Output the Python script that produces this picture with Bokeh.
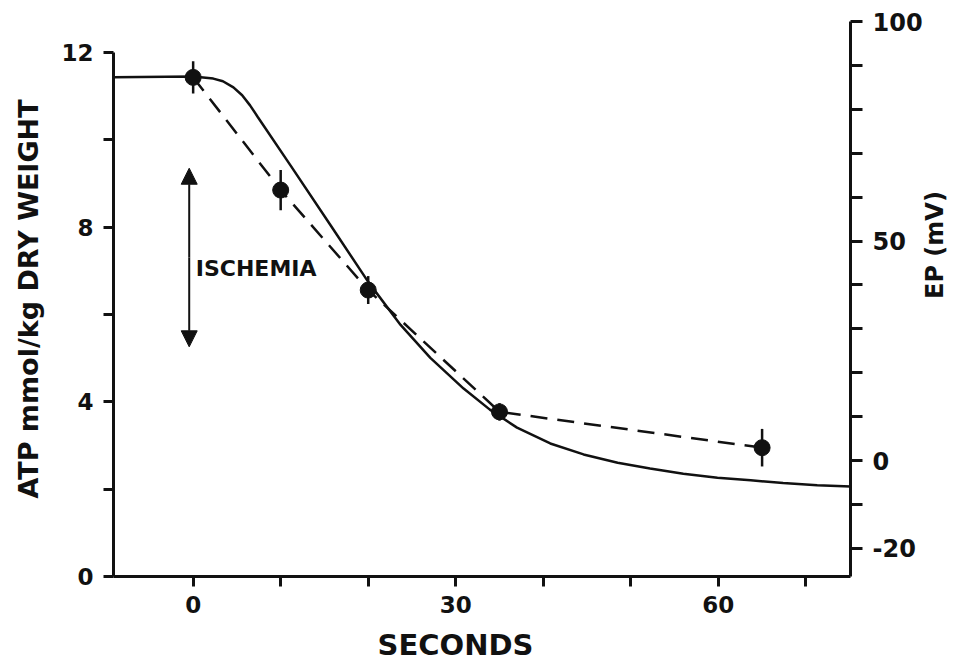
import math
from bokeh.plotting import figure
from bokeh.models import (Range1d, LinearAxis, FixedTicker, Label, Arrow, NormalHead, Title)
from bokeh.embed import file_html
from bokeh.resources import INLINE

# ---- data ----
atp_t = [0, 10, 20, 35, 65]
atp_val = [11.43, 8.85, 6.56, 3.77, 2.95]
atp_err = [0.37, 0.46, 0.32, 0.20, 0.43]

ep_t = [-9.1, 0, 2.3, 3.4, 4.6, 5.6, 6.5, 7.4, 11.1, 15.7, 20.0, 23.7, 27.1,
        30.9, 33.9, 37.0, 40.8, 44.6, 48.5, 52.2, 56.0, 59.9, 63.7, 67.4,
        71.3, 75.1]
ep_mv = [87.3, 87.5, 87.0, 86.4, 85.0, 83.2, 80.9, 78.2, 67.3, 53.6, 40.7,
         30.9, 23.4, 16.4, 11.6, 7.5, 3.9, 1.4, -0.5, -1.8, -3.0, -3.9, -4.5,
         -5.1, -5.6, -5.9]

x_major = [0, 30, 60]
x_minor = [10, 20, 40, 50, 70]
atp_major = [0, 4, 8, 12]
atp_minor = [2, 6, 10]
ep_major = [-20, 0, 50, 100]
ep_minor = [-10, 10, 20, 30, 40, 60, 70, 80, 90]
ep_labels = {-20: "-20", 0: "0", 50: "50", 100: "100"}

arrow_t = -0.45
arrow_top = 9.35
arrow_bottom = 5.26
label_pos = (0.3, 7.06)

FONT = "DejaVu Sans"
INK = "#111111"

p = figure(width=967, height=671, output_backend="svg", toolbar_location=None,
           x_range=Range1d(-9.1, 75.1), y_range=Range1d(0, 12.71),
           min_border_left=113, min_border_right=117, min_border_top=21,
           min_border_bottom=94, y_axis_location=None, x_axis_location=None)
p.extra_y_ranges = {"ep": Range1d(-26.4, 100)}
p.outline_line_color = None
p.xgrid.visible = False
p.ygrid.visible = False
p.background_fill_color = "white"
p.border_fill_color = "white"


def style(ax, tick_out):
    ax.axis_line_width = 3
    ax.axis_line_color = INK
    ax.major_tick_line_width = 3
    ax.minor_tick_line_width = 3
    ax.major_tick_line_color = INK
    ax.minor_tick_line_color = INK
    ax.major_tick_in = 0
    ax.minor_tick_in = 0
    ax.major_tick_out = tick_out
    ax.minor_tick_out = tick_out
    ax.major_label_text_font = FONT
    ax.major_label_text_font_style = "bold"
    ax.major_label_text_font_size = "23px"
    ax.major_label_text_color = INK
    ax.axis_label_text_font = FONT
    ax.axis_label_text_font_style = "bold"
    ax.axis_label_text_color = INK


xaxis = LinearAxis(ticker=FixedTicker(ticks=x_major, minor_ticks=x_minor))
style(xaxis, 10)
xaxis.major_label_standoff = 9
p.add_layout(xaxis, "below")

yaxis = LinearAxis(ticker=FixedTicker(ticks=atp_major, minor_ticks=atp_minor),
                   axis_label="ATP mmol/kg DRY WEIGHT", bounds=(0, 12))
style(yaxis, 10)
yaxis.major_label_standoff = 10
yaxis.axis_label_standoff = 14
yaxis.axis_label_text_font_size = "27px"
p.add_layout(yaxis, "left")

raxis = LinearAxis(y_range_name="ep",
                   ticker=FixedTicker(ticks=ep_major, minor_ticks=ep_minor),
                   major_label_overrides=ep_labels, axis_label="EP (mV)")
style(raxis, 12)
raxis.major_label_standoff = 10
raxis.major_label_text_font_size = "24px"
raxis.axis_label_text_font_size = "24px"
raxis.axis_label_standoff = 9
raxis.axis_label_orientation = math.pi / 2
p.add_layout(raxis, "right")

# x axis title, shifted left like the reference
p.add_layout(Title(text="SECONDS", align="left", offset=264, standoff=20,
                   text_font=FONT, text_font_style="bold", text_font_size="29px",
                   text_color=INK), "below")

# EP curve (solid, right axis)
p.line(ep_t, ep_mv, y_range_name="ep", line_color=INK, line_width=2.5)

# ATP (dashed with points and error bars)
p.line(atp_t, atp_val, line_color=INK, line_width=2.5, line_dash="17 10")
p.segment(x0=atp_t, x1=atp_t,
          y0=[v - e for v, e in zip(atp_val, atp_err)],
          y1=[v + e for v, e in zip(atp_val, atp_err)],
          line_color=INK, line_width=2.5)
p.scatter(atp_t, atp_val, size=16, fill_color=INK, line_color=INK)

# ischemia annotation
mid = (arrow_top + arrow_bottom) / 2
for y_end in (arrow_top, arrow_bottom):
    p.add_layout(Arrow(x_start=arrow_t, y_start=mid, x_end=arrow_t, y_end=y_end,
                       line_width=2, line_color=INK,
                       end=NormalHead(size=16, fill_color=INK, line_color=INK)))
p.add_layout(Label(x=label_pos[0], y=label_pos[1], text="ISCHEMIA",
                   text_font=FONT, text_font_style="bold", text_font_size="22px",
                   text_color=INK, text_baseline="middle"))

open("out.html", "w").write(file_html(p, INLINE))
